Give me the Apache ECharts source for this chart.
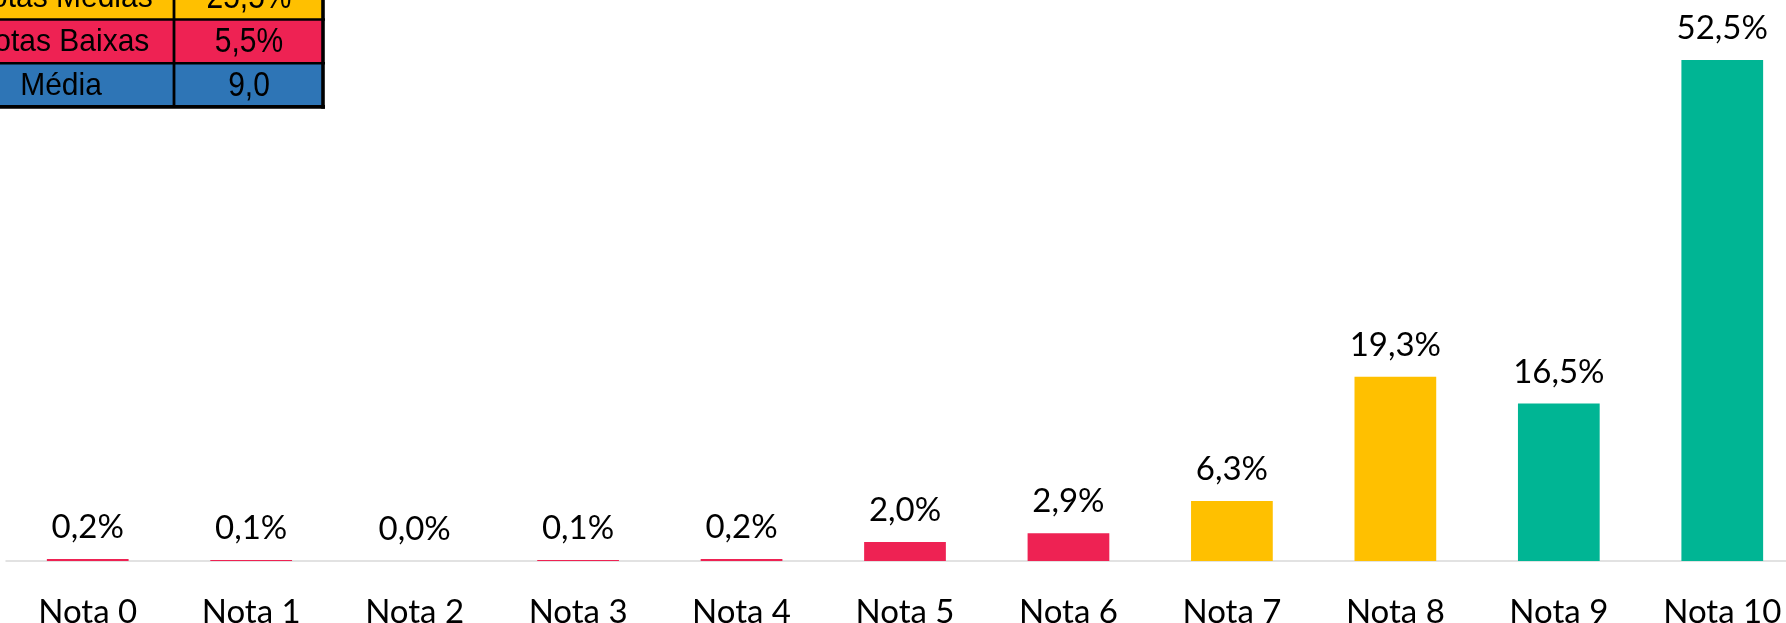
<!DOCTYPE html>
<html>
<head>
<meta charset="utf-8">
<title>Distribuição das notas</title>
<script src="https://cdn.jsdelivr.net/npm/echarts@6/dist/echarts.min.js"></script>
<style>
  html, body { margin: 0; padding: 0; background: #ffffff; }
  #chart { width: 1786px; height: 623px; }
</style>
</head>
<body>
<div id="chart"></div>
<script>
// Share of answers per score (percent)
const categories = ['Nota 0', 'Nota 1', 'Nota 2', 'Nota 3', 'Nota 4', 'Nota 5', 'Nota 6', 'Nota 7', 'Nota 8', 'Nota 9', 'Nota 10'];
const shares = [0.2, 0.1, 0.0, 0.1, 0.2, 2.0, 2.9, 6.3, 19.3, 16.5, 52.5];
// Score group of each category: low, medium, high
const groups = ['baixa', 'baixa', 'baixa', 'baixa', 'baixa', 'baixa', 'baixa', 'media', 'media', 'alta', 'alta'];

// Summary box in the upper-left corner
const summaryLabels = ['Notas Médias', 'Notas Baixas', 'Média'];
const summaryValues = ['25,5%', '5,5%', '9,0'];
const summaryKinds = ['media', 'baixa', 'score'];

const palette = {
  baixa: '#EE2253',
  media: '#FFC000',
  alta: '#00B594',
  score: '#2E75B6'
};

const fmt = v => v.toFixed(1).replace('.', ',') + '%';

// Summary table built as graphic elements
function summaryTable() {
  const els = [];
  const rowH = 43.7;
  const top0 = -24.2;
  const xL = -60, xMid = 174, xR = 323;
  summaryLabels.forEach((lab, i) => {
    const y = top0 + i * rowH;
    const fill = palette[summaryKinds[i]];
    els.push({ type: 'rect', shape: { x: xL, y: y, width: xMid - xL, height: rowH }, style: { fill: fill }, silent: true });
    els.push({ type: 'rect', shape: { x: xMid, y: y, width: xR - xMid, height: rowH }, style: { fill: fill }, silent: true });
    els.push({
      type: 'text', x: 61, y: y + rowH / 2 + 1, scaleY: 1.06,
      style: { text: lab, font: '30px "Liberation Sans", Arial, sans-serif', fill: '#000', align: 'center', verticalAlign: 'middle' },
      silent: true
    });
    els.push({
      type: 'text', x: 249, y: y + rowH / 2 + 1, scaleY: 1.15,
      style: { text: summaryValues[i], font: '30px "Liberation Sans", Arial, sans-serif', fill: '#000', align: 'center', verticalAlign: 'middle' },
      silent: true
    });
  });
  // grid lines of the table
  const line = (x1, y1, x2, y2, w) => els.push({
    type: 'line', shape: { x1, y1, x2, y2 }, style: { stroke: '#000', lineWidth: w }, silent: true
  });
  for (let i = 1; i <= 2; i++) line(xL, top0 + i * rowH, xR + 2, top0 + i * rowH, 2.6);
  line(xL, top0 + 3 * rowH, xR + 2, top0 + 3 * rowH, 3.6);
  line(xMid, top0, xMid, top0 + 3 * rowH, 2.8);
  line(xR, top0, xR, top0 + 3 * rowH + 1.8, 3.6);
  return els;
}

const chart = echarts.init(document.getElementById('chart'), null, { renderer: 'canvas' });

chart.setOption({
  animation: false,
  backgroundColor: '#ffffff',
  grid: { left: 6, width: 1798, top: 0, bottom: 62, containLabel: false, outerBoundsMode: 'none' },
  xAxis: {
    type: 'category',
    data: categories,
    axisLine: { show: true, lineStyle: { color: '#D9D9D9', width: 1.5 } },
    axisTick: { show: false },
    axisLabel: {
      margin: 35,
      color: '#000',
      fontFamily: 'Lato, "Open Sans", sans-serif',
      fontSize: 33,
      lineHeight: 33,
      hideOverlap: false
    }
  },
  yAxis: {
    type: 'value',
    min: 0,
    max: 58.8,
    show: false,
    splitLine: { show: false }
  },
  series: [{
    type: 'bar',
    barWidth: '50%',
    data: shares.map((v, i) => ({ value: v, itemStyle: { color: palette[groups[i]] } })),
    label: {
      show: true,
      position: 'top',
      distance: 15,
      formatter: p => fmt(p.value),
      color: '#000',
      fontFamily: 'Lato, "Open Sans", sans-serif',
      fontSize: 33,
      lineHeight: 33
    }
  }],
  graphic: summaryTable()
});
</script>
</body>
</html>
